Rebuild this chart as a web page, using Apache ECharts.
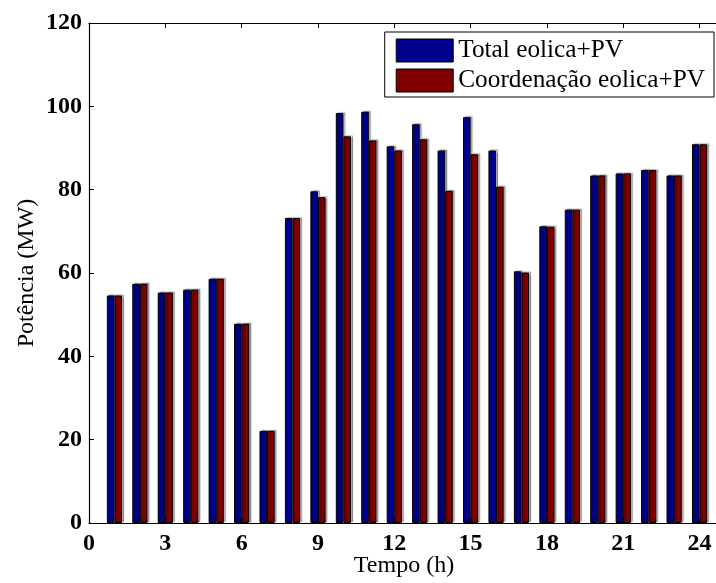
<!DOCTYPE html>
<html>
<head>
<meta charset="utf-8">
<script src="https://cdn.jsdelivr.net/npm/echarts@6/dist/echarts.min.js"></script>
<style>html,body{margin:0;padding:0;background:#fff}#c{width:716px;height:583px}</style>
</head>
<body>
<div id="c"></div>
<script>
const hours = [1,2,3,4,5,6,7,8,9,10,11,12,13,14,15,16,17,18,19,20,21,22,23,24];
const totalEolicaPV = [54.6,57.4,55.3,56.0,58.6,47.8,22.1,73.2,79.6,98.4,98.7,90.4,95.7,89.4,97.4,89.4,60.4,71.2,75.2,83.4,83.9,84.7,83.4,90.9];
const coordEolicaPV = [54.6,57.4,55.3,56.0,58.6,47.8,22.1,73.2,78.2,92.8,91.8,89.4,92.1,79.7,88.5,80.7,60.1,71.1,75.2,83.4,83.9,84.7,83.4,90.9];
const xTicks = [0,3,6,9,12,15,18,21,24];
const yTicks = [0,20,40,60,80,100,120];
const seriesNames = ['Total eolica+PV','Coordenação eolica+PV'];

const font = 'Liberation Serif, Times New Roman, serif';
const chart = echarts.init(document.getElementById('c'));
const barStyle = (c) => ({
  color: c, borderColor: '#000', borderWidth: 1,
  shadowColor: 'rgba(0,0,0,0.3)', shadowOffsetX: 2, shadowOffsetY: -1, shadowBlur: 1
});
chart.setOption({
  animation: false,
  backgroundColor: '#fff',
  grid: {left: 89, top: 23, width: 636, height: 500, outerBoundsMode: 'none', containLabel: false},
  legend: {
    right: 2, top: 32, orient: 'vertical',
    backgroundColor: '#fff', borderColor: '#000', borderWidth: 1,
    padding: [6, 9, 4, 11], itemGap: 5, itemWidth: 57, itemHeight: 23,
    icon: 'rect',
    textStyle: {fontFamily: font, fontSize: 25.3, color: '#000'},
    itemStyle: {borderColor: '#000', borderWidth: 1, shadowColor: 'transparent', shadowBlur: 0, shadowOffsetX: 0, shadowOffsetY: 0},
    data: seriesNames
  },
  xAxis: [{
    type: 'value', min: 0, max: 25, interval: 3,
    name: 'Tempo (h)', nameLocation: 'middle', nameGap: 31, nameMoveOverlap: false,
    nameTextStyle: {fontFamily: font, fontSize: 24, color: '#000', padding: [0, 6, 0, 0]},
    axisLine: {show: true, onZero: false, lineStyle: {color: '#000', width: 1.2}},
    axisTick: {show: true, inside: true, length: 5, lineStyle: {color: '#000'}, customValues: xTicks},
    axisLabel: {fontFamily: font, fontSize: 24, fontWeight: 'bold', color: '#000', margin: 9,
      customValues: xTicks},
    splitLine: {show: false}
  }, {
    type: 'value', position: 'top', min: 0, max: 25, interval: 3,
    axisLine: {show: true, onZero: false, lineStyle: {color: '#000', width: 1.2}},
    axisTick: {show: true, inside: true, length: 5, lineStyle: {color: '#000'}, customValues: xTicks},
    axisLabel: {show: false}, splitLine: {show: false}
  }],
  yAxis: [{
    type: 'value', min: 0, max: 120, interval: 20,
    name: 'Potência (MW)', nameLocation: 'middle', nameGap: 50, nameMoveOverlap: false,
    nameTextStyle: {fontFamily: font, fontSize: 24, color: '#000'},
    axisLine: {show: true, onZero: false, lineStyle: {color: '#000', width: 1.2}},
    axisTick: {show: true, inside: true, length: 5, lineStyle: {color: '#000'}},
    axisLabel: {fontFamily: font, fontSize: 24, fontWeight: 'bold', color: '#000', margin: 7},
    splitLine: {show: false}
  }],
  series: [{
    name: seriesNames[0], type: 'bar', barWidth: 7.6, barGap: '0%',
    itemStyle: barStyle('#00008F'),
    data: hours.map((h, i) => [h, totalEolicaPV[i]])
  }, {
    name: seriesNames[1], type: 'bar', barWidth: 7.6, barGap: '0%',
    itemStyle: barStyle('#800000'),
    data: hours.map((h, i) => [h, coordEolicaPV[i]])
  }]
});
</script>
</body>
</html>
